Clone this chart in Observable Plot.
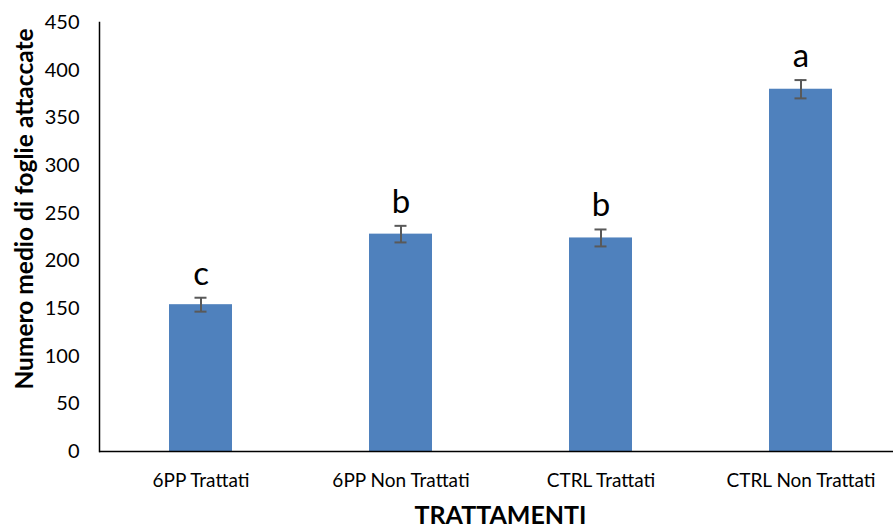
<!DOCTYPE html>
<html>
<head>
<meta charset="utf-8">
<script src="https://cdn.jsdelivr.net/npm/d3@7"></script>
<script src="https://cdn.jsdelivr.net/npm/@observablehq/plot@0.6"></script>
<style>
  html, body { margin: 0; padding: 0; background: #fff; }
  #chart svg { display: block; }
</style>
</head>
<body>
<div id="chart"></div>
<script>
const categories = ["6PP Trattati", "6PP Non Trattati", "CTRL Trattati", "CTRL Non Trattati"];
const means = [154, 228, 224, 380];
const errors = [7.3, 8.7, 8.9, 9.6];
const letters = ["c", "b", "b", "a"];
const yTicks = [0, 50, 100, 150, 200, 250, 300, 350, 400, 450];
const xTitle = "TRATTAMENTI";
const yTitle = "Numero medio di foglie attaccate";

const data = categories.map((c, i) => ({cat: c, v: means[i], e: errors[i], l: letters[i]}));

const chart = Plot.plot({
  width: 893,
  height: 527,
  marginLeft: 99,
  marginRight: 0,
  marginTop: 22,
  marginBottom: 76,
  style: {fontFamily: "Lato, sans-serif", background: "#fff", color: "#000"},
  x: {domain: categories, range: [100, 900], paddingInner: 0.685, paddingOuter: 0.3425},
  y: {domain: [0, 450]},
  marks: [
    Plot.barY(data, {x: "cat", y: "v", fill: "#4F81BD"}),
    Plot.ruleX(data, {x: "cat", y1: d => d.v - d.e, y2: d => d.v + d.e, stroke: "#595959", strokeWidth: 2}),
    Plot.tickY(data, {x: "cat", y: d => d.v - d.e, stroke: "#595959", strokeWidth: 2, insetLeft: 25.5, insetRight: 25.5}),
    Plot.tickY(data, {x: "cat", y: d => d.v + d.e, stroke: "#595959", strokeWidth: 2, insetLeft: 25.5, insetRight: 25.5}),
    Plot.text(data, {x: "cat", y: d => d.v + d.e, text: "l", lineAnchor: "bottom", dy: -13, fontSize: 33, fill: "#000"}),
    Plot.axisY({ticks: yTicks, tickSize: 0, tickPadding: 20, fontSize: 20, label: null, fill: "#000"}),
    Plot.axisX({tickSize: 0, tickPadding: 22, fontSize: 19, label: null, fill: "#000"}),
    Plot.frame({anchor: "left", stroke: "#000", strokeWidth: 1.5}),
    Plot.ruleY([0], {stroke: "#000", strokeWidth: 1.5}),
    Plot.text([xTitle], {frameAnchor: "bottom", lineAnchor: "bottom", dy: 72, dx: 4, fontSize: 25, fontWeight: "bold", fill: "#000"}),
    Plot.text([yTitle], {frameAnchor: "left", textAnchor: "middle", rotate: -90, dx: -74, dy: -28, fontSize: 24.5, fontWeight: "bold", fill: "#000"})
  ]
});
document.getElementById("chart").appendChild(chart);
</script>
</body>
</html>
